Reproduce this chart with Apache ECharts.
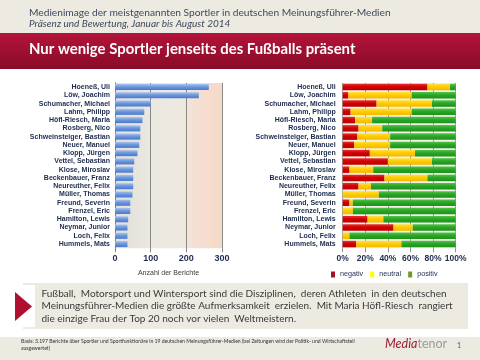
<!DOCTYPE html>
<html><head><meta charset="utf-8">
<script src="https://cdn.jsdelivr.net/npm/echarts@6/dist/echarts.min.js"></script>
<style>html,body{margin:0;padding:0;background:#fff}#c{width:480px;height:360px}</style>
</head><body><div id="c"></div>
<script>
const names = ["Hoeneß, Uli","Löw, Joachim","Schumacher, Michael","Lahm, Philipp","Höfl-Riesch, Maria","Rosberg, Nico","Schweinsteiger, Bastian","Neuer, Manuel","Klopp, Jürgen","Vettel, Sebastian","Klose, Miroslav","Beckenbauer, Franz","Neureuther, Felix","Müller, Thomas","Freund, Severin","Frenzel, Eric","Hamilton, Lewis","Neymar, Junior","Loch, Felix","Hummels, Mats"];
const counts = [263,235,100,82,77,71,71,68,63,54,51,51,51,49,43,43,37,35,35,35];
const negativ = [75,5,30,7,11,14,13,10,24,40,6,37,14,0,6,0,22,45,0,12];
const neutral = [20,56,49,54,15,21,29,32,40,39,21,38,11,32,3,9,14,17,6,40];
const positiv = [5,39,21,39,74,65,58,58,36,21,73,25,75,68,91,91,64,38,94,48];
const countTicks = [0,100,200,300];
const pctTicks = [0,20,40,60,80,100];

const header1 = "Medienimage der meistgenannten Sportler in deutschen Meinungsführer-Medien";
const header2 = "Präsenz und Bewertung, Januar bis August 2014";
const title = "Nur wenige Sportler jenseits des Fußballs präsent";
const bodyLines = ["Fußball,  Motorsport und Wintersport sind die Disziplinen,  deren Athleten  in den deutschen",
 "Meinungsführer-Medien die größte Aufmerksamkeit  erzielen.  Mit Maria Höfl-Riesch  rangiert",
 "die einzige Frau der Top 20 noch vor vielen  Weltmeistern."];
const footLines = ["Basis: 3.197 Berichte über Sportler und Sportfunktionäre in 19 deutschen Meinungsführer-Medien (bei Zeitungen wird der Politik- und Wirtschaftsteil",
 "ausgewertet)"];

const chart = echarts.init(document.getElementById('c'), null, {renderer:'canvas'});
const G = echarts.graphic;
const lblColor = '#1c2b4e';
const labelFont = 'Liberation Sans, Arial, sans-serif';

function vgrad(a,b,c){return new G.LinearGradient(0,0,0,1,[{offset:0,color:a},{offset:0.45,color:b},{offset:1,color:c}]);}

const option = {
  animation:false,
  backgroundColor:'#ffffff',
  grid:[
    {left:115, width:107, top:82.9, height:165.3, show:true, borderWidth:0,
     backgroundColor:new G.LinearGradient(0,0,1,0,[{offset:0,color:'#e1dfda'},{offset:0.35,color:'#ebe8e1'},{offset:0.62,color:'#eee9e0'},{offset:0.72,color:'#f4e0d4'},{offset:1,color:'#f6d9c8'}])},
    {left:342.7, width:113, top:82.9, height:165.3, show:true, borderWidth:0, backgroundColor:'#f3f0e8'}
  ],
  xAxis:[
    {gridIndex:0, type:'value', min:0, max:300, interval:100,
     name:'Anzahl der Berichte', nameLocation:'middle', nameGap:21,
     nameTextStyle:{fontSize:7, color:'#3a3a3a', fontFamily:labelFont},
     axisLine:{show:false}, axisTick:{show:true, length:4, lineStyle:{color:'#808080'}},
     splitLine:{show:true, lineStyle:{color:'#888888', width:1}},
     axisLabel:{fontSize:9, fontWeight:'bold', color:lblColor, fontFamily:labelFont, margin:6}},
    {gridIndex:1, type:'value', min:0, max:100, interval:20,
     axisLine:{show:false}, axisTick:{show:true, length:4, lineStyle:{color:'#909090'}},
     splitLine:{show:true, lineStyle:{color:'#a0a0a0', width:1}},
     axisLabel:{fontSize:8.5, fontWeight:'bold', color:lblColor, fontFamily:labelFont, margin:6, formatter:'{value}%'}}
  ],
  yAxis:[
    {gridIndex:0, type:'category', data:names, inverse:true,
     axisLine:{show:true, lineStyle:{color:'#808080'}}, axisTick:{show:false},
     axisLabel:{fontSize:7, fontWeight:'bold', color:lblColor, fontFamily:labelFont, margin:5, interval:0}},
    {gridIndex:1, type:'category', data:names, inverse:true,
     axisLine:{show:false}, axisTick:{show:false},
     axisLabel:{fontSize:7, fontWeight:'bold', color:lblColor, fontFamily:labelFont, margin:7, interval:0}}
  ],
  legend:{left:326, top:266, itemWidth:4, itemHeight:6, itemGap:7, icon:'rect',
    textStyle:{fontSize:7.2, color:lblColor, fontFamily:labelFont},
    data:[{name:'negativ', itemStyle:{color:'#a8102e'}},{name:'neutral', itemStyle:{color:'#ffff00'}},{name:'positiv', itemStyle:{color:'#6e9a22'}}]},
  series:[
    {type:'bar', xAxisIndex:0, yAxisIndex:0, data:counts, barWidth:6,
     itemStyle:{color:vgrad('#aac3ec','#6b98de','#4878cc')}},
    {name:'negativ', type:'bar', stack:'s', xAxisIndex:1, yAxisIndex:1, data:negativ, barWidth:6.5,
     itemStyle:{color:vgrad('#e83030','#d00000','#bb0000')}},
    {name:'neutral', type:'bar', stack:'s', xAxisIndex:1, yAxisIndex:1, data:neutral, barWidth:6.5,
     itemStyle:{color:vgrad('#ffe040','#ffcc00','#f2b800')}},
    {name:'positiv', type:'bar', stack:'s', xAxisIndex:1, yAxisIndex:1, data:positiv, barWidth:6.5,
     itemStyle:{color:vgrad('#52c44a','#2aa526','#1d9219')}}
  ],
  graphic:[
    {type:'rect', z:-5, shape:{x:0,y:0,width:480,height:33}, style:{fill:'#edeae1'}},
    {type:'text', left:29, top:7.5, style:{text:header1, font:'10.2px Lato, sans-serif', fill:'#3d4a5c'}},
    {type:'text', left:29, top:19, style:{text:header2, font:'italic 10px Lato, sans-serif', fill:'#3d4a5c'}},
    {type:'rect', z:-5, shape:{x:0,y:33,width:480,height:36}, style:{fill:new G.LinearGradient(0,0,0,1,[{offset:0,color:'#b4143a'},{offset:1,color:'#880b27'}])}},
    {type:'text', left:29, top:41.5, style:{text:title, font:'bold 14.9px Lato, sans-serif', fill:'#ffffff'}},
    {type:'rect', z:-5, shape:{x:23,y:283,width:445,height:46}, style:{fill:'#edeae1'}},
    {type:'rect', z:-4, shape:{x:22,y:285,width:13,height:42}, style:{fill:'#ffffff'}},
    {type:'polygon', shape:{points:[[15,292],[32,306.5],[15,321]]}, style:{fill:'#b0102f'}},
    {type:'text', left:41.5, top:289, style:{text:bodyLines[0], font:'10px Lato, sans-serif', fill:'#3a3a3a'}},
    {type:'text', left:41.5, top:301, style:{text:bodyLines[1], font:'10px Lato, sans-serif', fill:'#3a3a3a'}},
    {type:'text', left:41.5, top:314, style:{text:bodyLines[2], font:'10px Lato, sans-serif', fill:'#3a3a3a'}},
    {type:'rect', z:-5, shape:{x:0,y:337,width:480,height:23}, style:{fill:'#edeae1'}},
    {type:'text', left:21, top:339, style:{text:footLines[0], font:'5.1px Lato, sans-serif', fill:'#333'}},
    {type:'text', left:21, top:346, style:{text:footLines[1], font:'5.1px Lato, sans-serif', fill:'#333'}},
    {type:'text', left:385, top:337.5, style:{text:'{a|Media}{b|tenor}', rich:{a:{font:'italic 12.5px Lato, sans-serif', fill:'#9c1b33'}, b:{font:'12.5px Lato, sans-serif', fill:'#9a9a9a'}}}},
    {type:'text', left:457, top:342, style:{text:'1', font:'7px Lato, sans-serif', fill:'#555'}}
  ]
};
chart.setOption(option);
</script></body></html>
